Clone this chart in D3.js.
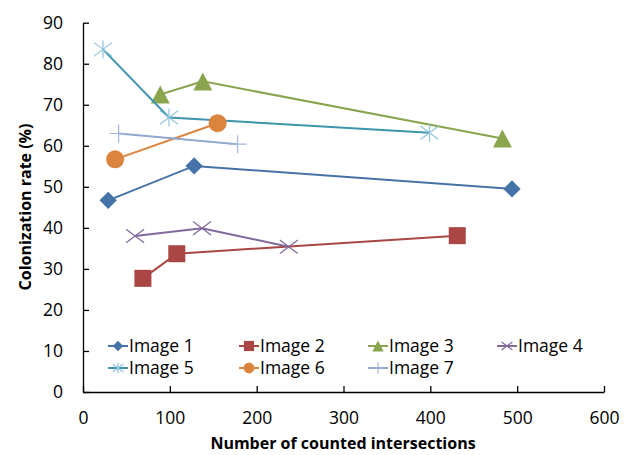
<!DOCTYPE html>
<html><head><meta charset="utf-8">
<script src="https://cdn.jsdelivr.net/npm/d3@7"></script>
<style>body{margin:0;background:#fff}svg{font-family:"Open Sans","Noto Sans",sans-serif}</style>
</head><body><svg id="c" width="631" height="455"></svg>
<script>
const seriesNames = ["Image 1","Image 2","Image 3","Image 4","Image 5","Image 6","Image 7"];
const image1 = [[29,46.7],[128,55.1],[494,49.5]];
const image2 = [[69,27.7],[108,33.7],[431,38.1]];
const image3 = [[89,72.5],[138,75.7],[483,61.8]];
const image4 = [[60,38.0],[137,39.9],[237,35.4]];
const image5 = [[23,83.5],[99,66.9],[399,63.2]];
const image6 = [[37,56.7],[155,65.5]];
const image7 = [[41,63.0],[178,60.4]];
const xTicks = [0,100,200,300,400,500,600];
const yTicks = [0,10,20,30,40,50,60,70,80,90];
const lineColors = ["#4572A7","#AA4643","#89A54E","#80699B","#3D96AE","#DB843D","#92A8CD"];
const markerColors = ["#4572A7","#AA4643","#89A54E","#80699B","#92C5DE","#DB843D","#A4B6D9"];
const markerTypes = ["diamond","square","triangle","x","star","circle","plus"];
const data = [image1,image2,image3,image4,image5,image6,image7];

const svg = d3.select("#c");
const x = d3.scaleLinear().domain([0,600]).range([83,604]);
const y = d3.scaleLinear().domain([0,90]).range([392,22.7]);

// axes
const gx = svg.append("g").attr("transform","translate(0,392)")
  .call(d3.axisBottom(x).tickValues(xTicks).tickSizeInner(-6).tickSizeOuter(0).tickPadding(20));
const gy = svg.append("g").attr("transform","translate(83,0)")
  .call(d3.axisLeft(y).tickValues(yTicks).tickSizeInner(-6).tickSizeOuter(0).tickPadding(20));
[gx,gy].forEach(g=>{
  g.select(".domain").attr("stroke","#000").attr("stroke-width",1.3);
  g.selectAll(".tick line").attr("stroke","#000").attr("stroke-width",1.3);
  g.selectAll(".tick text").attr("font-size",17.5).attr("fill","#000").attr("font-family","'Open Sans',sans-serif");
});
gx.selectAll(".tick text").attr("dy","0.71em");

svg.append("text").attr("x",343).attr("y",449).attr("text-anchor","middle")
  .attr("font-size",16).attr("font-weight","bold").text("Number of counted intersections");
svg.append("text").attr("transform","translate(31,207) rotate(-90)").attr("text-anchor","middle")
  .attr("font-size",16).attr("font-weight","bold").text("Colonization rate (%)");

function drawMarker(g, type, cx, cy, color, s){
  s = s||1;
  if(type==="diamond"){
    g.append("path").attr("d",d3.symbol(d3.symbolSquare, 150*s*s)()).attr("transform",`translate(${cx},${cy}) rotate(45)`).attr("fill",color);
  } else if(type==="square"){
    g.append("rect").attr("x",cx-8.5*s).attr("y",cy-8.5*s).attr("width",17*s).attr("height",17*s).attr("fill",color);
  } else if(type==="triangle"){
    const h=9*s;
    g.append("path").attr("d",`M${cx},${cy-h}L${cx+h*1.05},${cy+h}L${cx-h*1.05},${cy+h}Z`).attr("fill",color);
  } else if(type==="circle"){
    g.append("circle").attr("cx",cx).attr("cy",cy).attr("r",9*s).attr("fill",color);
  } else if(type==="x"){
    const r=9*s;
    g.append("path").attr("d",`M${cx-r},${cy-r*0.75}L${cx+r},${cy+r*0.75}M${cx-r},${cy+r*0.75}L${cx+r},${cy-r*0.75}`).attr("stroke",color).attr("stroke-width",1.2).attr("fill","none");
  } else if(type==="star"){
    const r=9*s;
    g.append("path").attr("d",`M${cx-r},${cy-r*0.75}L${cx+r},${cy+r*0.75}M${cx-r},${cy+r*0.75}L${cx+r},${cy-r*0.75}M${cx},${cy-r}L${cx},${cy+r}`).attr("stroke",color).attr("stroke-width",1.2).attr("fill","none");
  } else if(type==="plus"){
    const r=9*s;
    g.append("path").attr("d",`M${cx-r},${cy}L${cx+r},${cy}M${cx},${cy-r}L${cx},${cy+r}`).attr("stroke",color).attr("stroke-width",1.2).attr("fill","none");
  }
}

const line = d3.line().x(d=>x(d[0])).y(d=>y(d[1]));
const plot = svg.append("g");
data.forEach((ser,i)=>{
  const g = plot.append("g");
  g.append("path").attr("d",line(ser)).attr("fill","none").attr("stroke",lineColors[i]).attr("stroke-width",2);
  ser.forEach(d=>drawMarker(g, markerTypes[i], x(d[0]), y(d[1]), markerColors[i], 1));
});

// legend
const legX = [108,239,368,497], legY=[346,368];
seriesNames.forEach((n,i)=>{
  const cx = legX[i%4], cy = legY[Math.floor(i/4)];
  const g = svg.append("g");
  g.append("line").attr("x1",cx).attr("x2",cx+20).attr("y1",cy).attr("y2",cy).attr("stroke",lineColors[i]).attr("stroke-width",2);
  drawMarker(g, markerTypes[i], cx+10, cy, markerColors[i], 0.6);
  g.append("text").attr("x",cx+21).attr("y",cy).attr("dy","0.35em").attr("font-size",17.5).text(n);
});
</script></body></html>
